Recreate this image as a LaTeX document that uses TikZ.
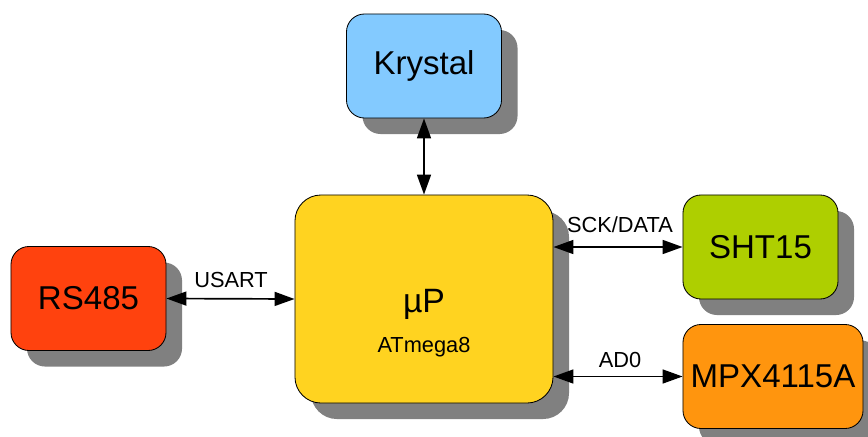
\documentclass[tikz,border=0pt]{standalone}
\usepackage{fontspec}
\setmainfont{Liberation Sans}
\usetikzlibrary{arrows.meta, shadows}

\definecolor{krystalblue}{HTML}{83CAFF}
\definecolor{rsred}{HTML}{FF420E}
\definecolor{mcuyellow}{HTML}{FFD320}
\definecolor{shtgreen}{HTML}{AECF00}
\definecolor{mpxorange}{HTML}{FF950E}

\tikzset{
  block/.style={draw, line width=0.6pt, rounded corners=0.45cm, inner sep=0pt,
    minimum width=3.875cm, minimum height=2.6cm,
    font=\fontsize{23.5}{28}\selectfont,
    drop shadow={shadow xshift=0.4cm, shadow yshift=-0.4cm, fill=black!50, opacity=1}},
  link/.style={line width=1.2pt,
    {Triangle[length=0.5cm,width=0.35cm]}-{Triangle[length=0.5cm,width=0.35cm]}},
  sig/.style={font=\fontsize{15.5}{18}\selectfont, anchor=base, inner sep=0pt}
}

\begin{document}
\begin{tikzpicture}[x=0.025cm, y=-0.025cm]
  \useasboundingbox (0,0) rectangle (868,436);
  % blocks
  \node[block, fill=krystalblue] (krystal) at (424,66) {Krystal};
  \node[block, fill=mcuyellow, minimum width=6.45cm, minimum height=5.2cm,
        rounded corners=0.65cm] (mcu) at (424,299) {};
  \node[anchor=base, inner sep=0pt, font=\fontsize{24}{28}\selectfont] (mcuname) at (424,312) {µP};
  \node[sig] (mcutype) at (424,352) {ATmega8};
  \node[block, fill=rsred] (rs) at (88.5,298.5) {RS485};
  \node[block, fill=shtgreen] (sht) at (760.5,247) {SHT15};
  \node[block, fill=mpxorange, minimum width=4.5cm] (mpx) at (773,376.5) {MPX4115A};
  % connections
  \draw[link] (krystal.south) -- (mcu.north);
  \draw[link] (rs.east) -- (mcu.west);
  \draw[link] (mcu.east |- sht.west) -- (sht.west);
  \draw[link] (mcu.east |- mpx.west) -- (mpx.west);
  % signal names
  \node[sig] (usart) at (231,287) {USART};
  \node[sig] (sck) at (620,232) {SCK/DATA};
  \node[sig] (adc) at (620,367) {AD0};
\end{tikzpicture}
\end{document}
